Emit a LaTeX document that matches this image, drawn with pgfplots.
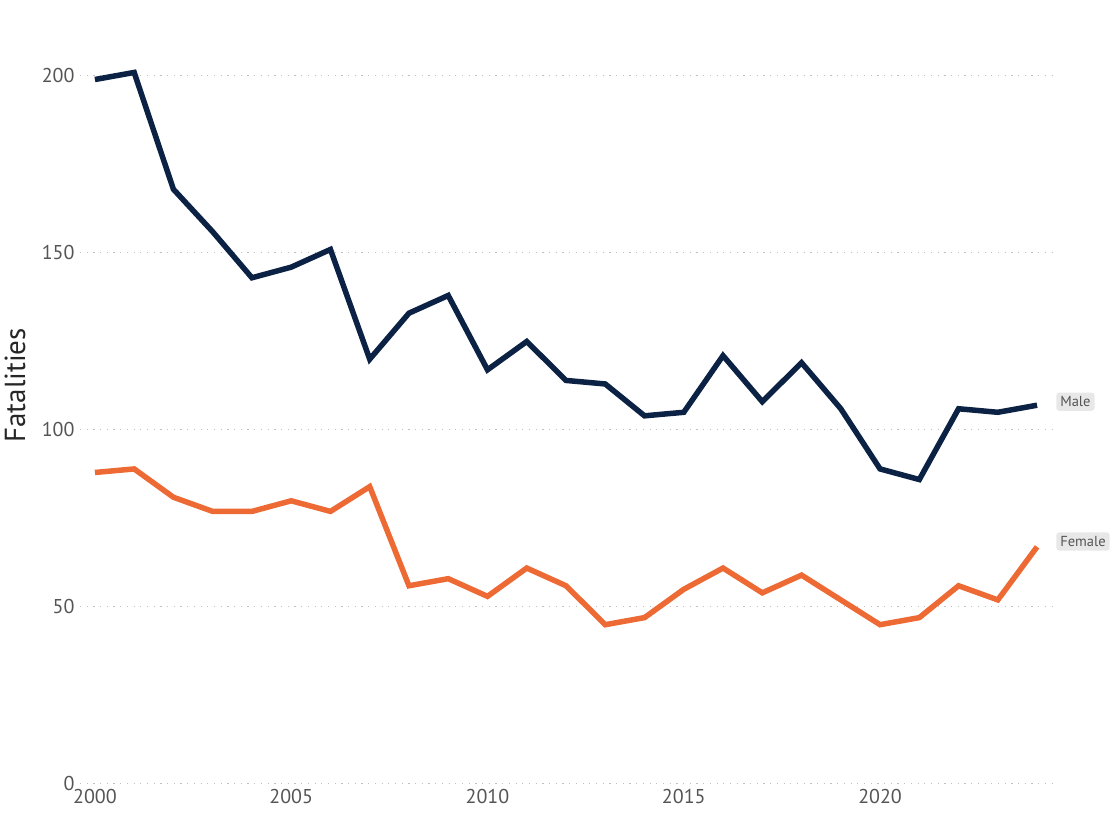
\documentclass[border=0pt]{standalone}
\usepackage{fontspec}
\setmainfont{PT Sans}
\usepackage{pgfplots}
\pgfplotsset{compat=1.18}
\definecolor{navy}{HTML}{0B2244}
\definecolor{orng}{HTML}{EE6A35}
\definecolor{tickgray}{HTML}{555555}
\begin{document}
\begin{tikzpicture}
\begin{axis}[
    scale only axis,
    width=972pt, height=708pt,
    at={(0,0)}, anchor=south west,
    xmin=1999.62, xmax=2024.38,
    ymin=0, ymax=200,
    axis line style={draw=none},
    major tick length=0pt,
    xtick={2000,2005,...,2020},
    ytick={0,50,...,200},
    /pgf/number format/1000 sep={},
    /pgf/number format/assume math mode=true,
    tick label style={font=\fontsize{20}{23}\selectfont, text=tickgray},
    xticklabel style={yshift=-2pt},
    yticklabel style={xshift=-2pt},
    ymajorgrids,
    grid style={dash pattern=on 1.2pt off 5.5pt, gray!50, line width=1pt},
    clip=false,
]
\addplot[navy, line width=5.5pt, line join=miter] coordinates {
(2000,199) (2001,201) (2002,168) (2003,156) (2004,143) (2005,146) (2006,151)
(2007,120) (2008,133) (2009,138) (2010,117) (2011,125) (2012,114) (2013,113)
(2014,104) (2015,105) (2016,121) (2017,108) (2018,119) (2019,106) (2020,89)
(2021,86) (2022,106) (2023,105) (2024,107)};
\addplot[orng, line width=5.5pt, line join=miter] coordinates {
(2000,88) (2001,89) (2002,81) (2003,77) (2004,77) (2005,80) (2006,77)
(2007,84) (2008,56) (2009,58) (2010,53) (2011,61) (2012,56) (2013,45)
(2014,47) (2015,55) (2016,61) (2017,54) (2018,59) (2019,52) (2020,45)
(2021,47) (2022,56) (2023,52) (2024,67)};
\node[anchor=west, fill=gray!18, rounded corners=3pt, inner sep=4pt,
      font=\fontsize{14.5}{16}\selectfont, text=tickgray]
      at ([xshift=19pt]axis cs:2024,108) {Male};
\node[anchor=west, fill=gray!18, rounded corners=3pt, inner sep=4pt,
      font=\fontsize{14.5}{16}\selectfont, text=tickgray]
      at ([xshift=19pt]axis cs:2024,68.5) {Female};
\node[rotate=90, font=\fontsize{29}{32}\selectfont, text=black!85]
      at ([xshift=-65pt]rel axis cs:0,0.563) {Fatalities};
\end{axis}
\pgfresetboundingbox
\path (-80pt,-37pt) rectangle (1040pt,784pt);
\end{tikzpicture}
\end{document}
